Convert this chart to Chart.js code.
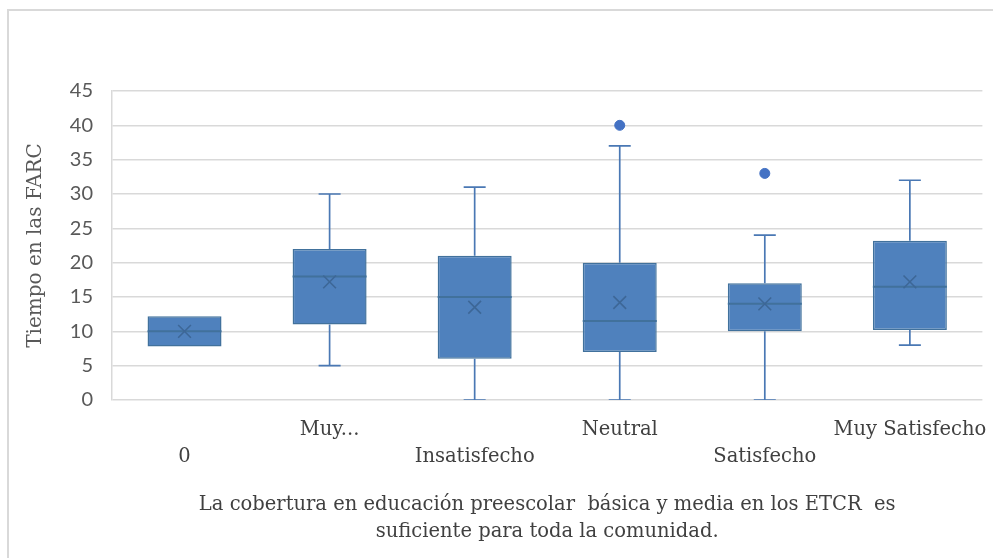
<html>
<head>
  <title>Tiempo en las FARC</title>
  <script src="https://cdn.jsdelivr.net/npm/chart.js"></script>
  <style>
    body { margin: 0; background: #fff; }
    #wrap { position: relative; width: 993px; height: 558px; }
    #frame { position: absolute; left: 7px; top: 9px; width: 990px; height: 560px;
      border-left: 2px solid #d9d9d9; border-top: 2px solid #d9d9d9; }
    #chart { position: absolute; left: 0; top: 0; }
  </style>
</head>
<body>
  <div id="wrap">
    <div id="frame"></div>
    <canvas id="chart" width="993" height="558"></canvas>
  </div>
  <script>
    // categories (x axis)
    const categories = ['0', 'Muy...', 'Insatisfecho', 'Neutral', 'Satisfecho', 'Muy Satisfecho'];
    // box plot numbers
    const minVals = [7.8, 5, 0, 0, 0, 8];
    const q1Vals = [7.8, 11, 6, 7, 10, 10.2];
    const medianVals = [10, 18, 15, 11.5, 14, 16.5];
    const q3Vals = [12.2, 22, 21, 20, 17, 23.2];
    const maxVals = [12.2, 30, 31, 37, 24, 32];
    const meanVals = [10, 17.2, 13.5, 14.2, 14, 17.2];
    const outlierVals = [null, null, null, 40, 33, null];
    const yTicks = [0, 5, 10, 15, 20, 25, 30, 35, 40, 45];

    const boxFill = '#4f81bd';
    const boxLine = '#41719c';

    // medians + whiskers, drawn right after the boxes
    const boxExtras = {
      id: 'boxExtras',
      afterDatasetDraw(chart, args) {
        if (args.index !== 0) return;
        const ctx = chart.ctx;
        const x = chart.scales.x, y = chart.scales.y;
        const area = chart.chartArea;
        const bars = args.meta.data;
        ctx.save();
        ctx.beginPath();
        ctx.rect(area.left, area.top - 5, area.right - area.left, area.bottom - area.top + 5);
        ctx.clip();
        categories.forEach((c, i) => {
          const cx = x.getPixelForValue(i);
          const half = bars[i].width / 2;
          // median
          ctx.strokeStyle = boxLine;
          ctx.lineWidth = 2;
          ctx.beginPath();
          ctx.moveTo(cx - half, y.getPixelForValue(medianVals[i]));
          ctx.lineTo(cx + half, y.getPixelForValue(medianVals[i]));
          ctx.stroke();
          // whiskers
          ctx.strokeStyle = '#4a78b4';
          ctx.lineWidth = 1.7;
          const pairs = [[q3Vals[i], maxVals[i]], [q1Vals[i], minVals[i]]];
          pairs.forEach(p => {
            if (p[0] === p[1]) return;
            const y0 = y.getPixelForValue(p[0]), y1 = y.getPixelForValue(p[1]);
            ctx.beginPath();
            ctx.moveTo(cx, y0);
            ctx.lineTo(cx, y1);
            ctx.moveTo(cx - 11, y1);
            ctx.lineTo(cx + 11, y1);
            ctx.stroke();
          });
        });
        ctx.restore();
      }
    };

    new Chart(document.getElementById('chart'), {
      type: 'bar',
      data: {
        labels: categories,
        datasets: [{
          type: 'bar',
          label: 'caja',
          data: q1Vals.map((v, i) => [v, q3Vals[i]]),
          backgroundColor: boxFill,
          borderColor: boxLine,
          borderWidth: 1.5,
          borderSkipped: false,
          categoryPercentage: 1,
          barPercentage: 0.51,
          order: 3
        }, {
          type: 'line',
          label: 'media',
          data: meanVals,
          showLine: false,
          pointStyle: 'crossRot',
          pointRadius: 9,
          pointBorderColor: '#3d6797',
          pointBorderWidth: 1.6,
          order: 1
        }, {
          type: 'line',
          label: 'atipicos',
          data: outlierVals,
          showLine: false,
          pointStyle: 'circle',
          pointRadius: 5,
          pointBackgroundColor: '#4472c4',
          pointBorderColor: '#4472c4',
          order: 0
        }]
      },
      options: {
        responsive: false,
        animation: false,
        events: [],
        layout: { padding: { left: 0, right: 1, top: 91, bottom: 0 } },
        plugins: { legend: { display: false }, tooltip: { enabled: false } },
        scales: {
          x: {
            grid: { display: false },
            border: { display: false },
            ticks: {
              autoSkip: false,
              maxRotation: 0,
              padding: 8,
              color: '#404040',
              font: { family: 'DejaVu Serif', size: 19.5, lineHeight: 1.385 },
              callback: (v, i) => i % 2 === 0 ? ['', categories[i]] : [categories[i], '']
            },
            title: {
              display: true,
              text: ['La cobertura en educación preescolar  básica y media en los ETCR  es', 'suficiente para toda la comunidad.'],
              color: '#404040',
              font: { family: 'DejaVu Serif', size: 19.5, lineHeight: 1.41 },
              padding: { top: 0, bottom: 12 }
            },
            afterFit: s => { s.height = 158; s.paddingLeft = 0; s.paddingRight = 0; }
          },
          y: {
            min: 0,
            max: 45,
            afterBuildTicks: s => { s.ticks = yTicks.map(v => ({ value: v })); },
            grid: { color: '#d9d9d9', lineWidth: 1.5, drawTicks: false },
            border: { display: true, color: '#d9d9d9', width: 1.5 },
            ticks: {
              padding: 19,
              color: '#595959',
              font: { family: 'Lato', size: 20 }
            },
            title: {
              display: true,
              text: 'Tiempo en las FARC',
              color: '#595959',
              font: { family: 'DejaVu Serif', size: 20, lineHeight: 1.2 },
              padding: { top: 24, bottom: 0 }
            },
            afterFit: s => { s.width = 112; s.paddingTop = 0; s.paddingBottom = 0; }
          }
        }
      },
      plugins: [boxExtras]
    });
  </script>
</body>
</html>
